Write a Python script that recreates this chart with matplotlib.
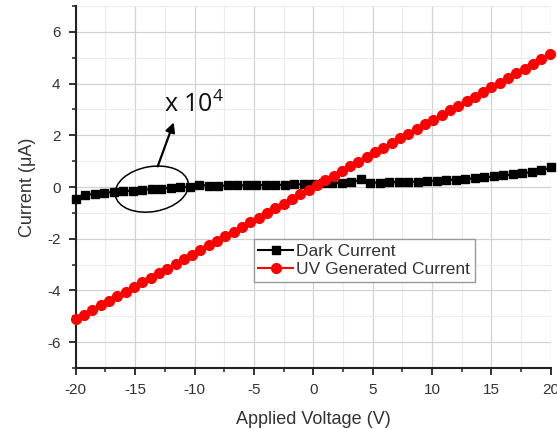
import matplotlib
matplotlib.use("Agg")
import matplotlib.pyplot as plt
import matplotlib.transforms as transforms
from matplotlib.patches import Ellipse
from matplotlib.ticker import MultipleLocator
import numpy as np

plt.rcParams['font.family'] = ['Liberation Sans', 'DejaVu Sans']
plt.rcParams['mathtext.fontset'] = 'custom'
plt.rcParams['mathtext.rm'] = 'Open Sans'
plt.rcParams['mathtext.default'] = 'regular'
plt.rcParams['axes.unicode_minus'] = False

# dark current, 0.8 V steps
dark_v = np.arange(51) * 0.8 - 20
dark_i = [-0.48, -0.30, -0.27, -0.22, -0.19, -0.16, -0.14, -0.11, -0.08, -0.06,
          -0.03, -0.01, 0.01, 0.09, 0.05, 0.05, 0.06, 0.06, 0.07, 0.07,
          0.08, 0.08, 0.09, 0.10, 0.11, 0.13, 0.15, 0.16, 0.15, 0.18,
          0.30, 0.17, 0.17, 0.18, 0.19, 0.20, 0.21, 0.23, 0.25, 0.27,
          0.29, 0.31, 0.34, 0.37, 0.41, 0.45, 0.49, 0.53, 0.58, 0.64,
          0.76]

# UV generated current, 0.7 V steps
uv_v = np.arange(58) * 0.7 - 20
uv_i = [-5.09, -4.93, -4.75, -4.58, -4.40, -4.22, -4.04, -3.86, -3.68, -3.51,
        -3.33, -3.15, -2.97, -2.79, -2.61, -2.43, -2.25, -2.07, -1.90, -1.72,
        -1.54, -1.36, -1.18, -1.00, -0.82, -0.64, -0.46, -0.28, -0.10, 0.08,
        0.26, 0.44, 0.62, 0.80, 0.98, 1.16, 1.34, 1.52, 1.70, 1.88,
        2.06, 2.24, 2.42, 2.60, 2.78, 2.96, 3.14, 3.32, 3.50, 3.68,
        3.86, 4.04, 4.22, 4.40, 4.58, 4.76, 4.94, 5.15]

fig = plt.figure(figsize=(5.57, 4.29), dpi=100)
ax = fig.add_axes([0.136, 0.142, 0.853, 0.844])

ax.plot(dark_v, dark_i, color='black', marker='s', markersize=6, lw=1.5,
        label='Dark Current', clip_on=False, zorder=3)
ax.plot(uv_v, uv_i, color='#ff0000', marker='o', markersize=7, lw=1.5,
        label='UV Generated Current', clip_on=False, zorder=3)

ax.set_xlim(-20, 20)
ax.set_ylim(-7, 7)
ax.xaxis.set_major_locator(MultipleLocator(5))
ax.xaxis.set_minor_locator(MultipleLocator(2.5))
ax.yaxis.set_major_locator(MultipleLocator(2))
ax.yaxis.set_minor_locator(MultipleLocator(1))

ax.grid(which='major', color='#d2d2d2', lw=0.9)
ax.grid(which='minor', color='#ececec', lw=0.8)
ax.set_axisbelow(True)

for s in ['top', 'right']:
    ax.spines[s].set_visible(False)
for s in ['left', 'bottom']:
    ax.spines[s].set_linewidth(1.5)
    ax.spines[s].set_color('#222222')

ax.tick_params(which='major', direction='out', length=5, width=1.3,
               color='#222222', labelsize=11, labelcolor='#333333', pad=6)
ax.tick_params(which='minor', direction='out', length=3, width=1.1,
               color='#222222')

ax.set_xlabel('Applied Voltage (V)', fontsize=13, color='#333333', labelpad=10)
ax.set_ylabel('Current (μA)', fontsize=13, color='#333333', labelpad=8)

leg = ax.legend(loc='upper left', bbox_to_anchor=(0.375, 0.356),
                borderaxespad=0, fontsize=12.5, fancybox=False, framealpha=1,
                edgecolor='#999999', handlelength=2.0, handletextpad=0.2,
                borderpad=0.25, labelspacing=0.2, numpoints=1)
leg.get_frame().set_linewidth(1.0)
for t in leg.get_texts():
    t.set_color('#333333')

# ellipse drawn in inches around a data-space center
trans = fig.dpi_scale_trans + transforms.ScaledTranslation(-13.6, -0.08, ax.transData)
ax.add_patch(Ellipse((0, 0), 0.74, 0.45, angle=10, fill=False,
                     edgecolor='black', lw=1.1, transform=trans, zorder=4))

ax.annotate('', xy=(-11.75, 2.5), xytext=(-13.1, 0.8),
            arrowprops=dict(arrowstyle='-|>', color='black', lw=1.6,
                            mutation_scale=14, shrinkA=0, shrinkB=0))
ax.text(-12.6, 2.9, 'x 10$^4$', fontsize=18, family='Open Sans',
        color='#111111', va='baseline', ha='left')

fig.savefig('out.png', dpi=100)
